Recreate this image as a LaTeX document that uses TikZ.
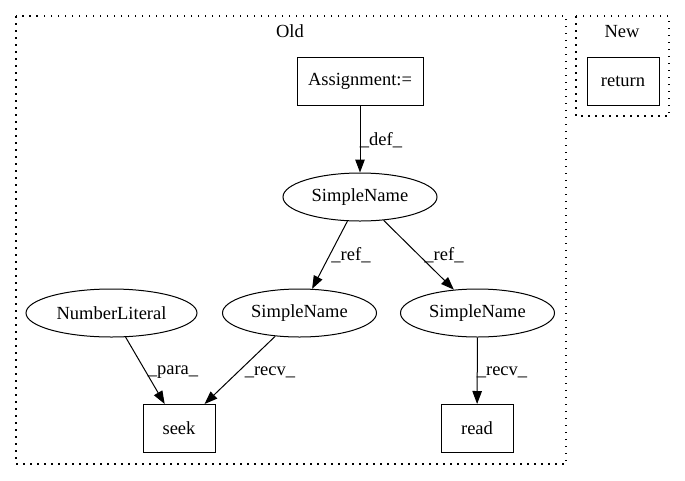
\documentclass[tikz,border=0pt]{standalone}
\usepackage{fontspec}
\setmainfont{Liberation Serif}
\usetikzlibrary{arrows.meta,shapes.geometric}
\begin{document}
\begin{tikzpicture}[x=1pt,y=-1pt,
  every node/.style={font=\fontsize{18.5}{20}\selectfont, inner sep=0pt},
  boxnode/.style={draw, rectangle, line width=1pt, minimum height=48pt},
  ellnode/.style={draw, ellipse, line width=1pt, minimum height=48pt},
  edge/.style={draw, line width=1pt, -{Triangle[length=13pt,width=9.5pt]}},
  lbl/.style={font=\fontsize{18.5}{20}\selectfont},
  cluster/.style={draw, line width=1.2pt, dash pattern=on 1.5pt off 5.5pt}
]
\useasboundingbox (0,0) rectangle (685,480);
\draw[cluster] (16,16) rectangle (566,464);
\draw[cluster] (576,16) rectangle (669,116);
\node (oldlbl) at (290,31) {Old};
\node (newlbl) at (622,32) {New};

\node[boxnode, minimum width=126pt] (assign) at (360,81) {Assignment:=};
\node[ellnode, minimum width=154pt] (sn0) at (360,197) {SimpleName};
\node[ellnode, minimum width=154pt] (sn1) at (299.5,313) {SimpleName};
\node[ellnode, minimum width=154pt] (sn2) at (477.5,313) {SimpleName};
\node[ellnode, minimum width=171pt] (num) at (111.5,313) {NumberLiteral};
\node[boxnode, minimum width=72pt] (seek) at (179,428.5) {seek};
\node[boxnode, minimum width=72pt] (read) at (477,428.5) {read};
\node[boxnode, minimum width=72pt] (ret) at (623,81) {return};

\draw[edge] (assign) -- (sn0);
\draw[edge] (sn0) -- (sn1);
\draw[edge] (sn0) -- (sn2);
\draw[edge] (num) -- (seek);
\draw[edge] (sn1) -- (seek);
\draw[edge] (sn2) -- (read);

\node[lbl] (l1) at (381,140) {\_def\_};
\node[lbl] (l2) at (351,255) {\_ref\_};
\node[lbl] (l3) at (444,255) {\_ref\_};
\node[lbl] (l4) at (173,372) {\_para\_};
\node[lbl] (l5) at (270,372) {\_recv\_};
\node[lbl] (l6) at (502,372) {\_recv\_};
\end{tikzpicture}
\end{document}
